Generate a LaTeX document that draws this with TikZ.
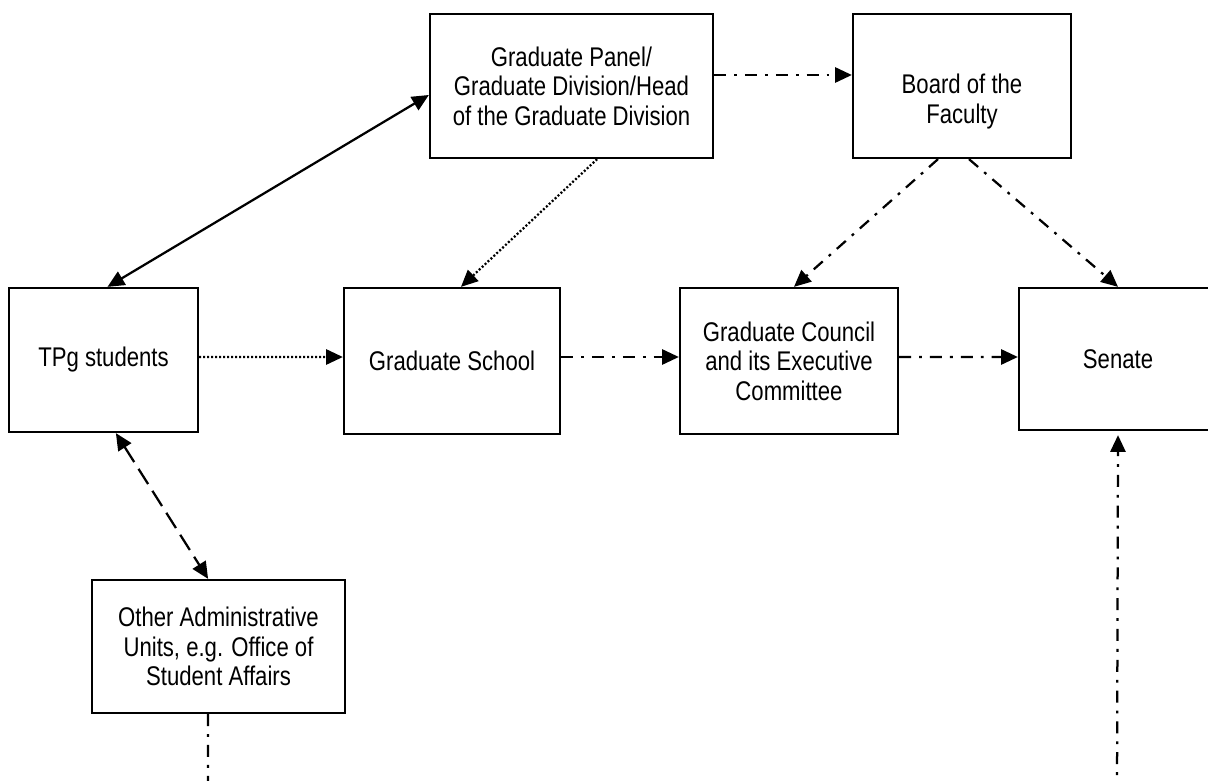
\documentclass[tikz,border=0pt]{standalone}
\usepackage{fontspec}
\setmainfont{Liberation Sans}[FakeStretch=0.82]
\usetikzlibrary{arrows.meta}

\begin{document}
\begin{tikzpicture}[x=0.025cm, y=-0.025cm, line width=1.6pt, nodes = {align = center}, >={Triangle[length=0.42cm, width=0.38cm]}]

  \tikzstyle{unit}=[draw, rectangle, inner sep=0pt, minimum height=3.6cm, font=\fontsize{19.2}{21}\selectfont]
  \tikzstyle{link}=[dash pattern=on 0.3cm off 0.2cm on 0.07cm off 0.2cm]
  \tikzstyle{info}=[dash pattern=on 0.05cm off 0.05cm]
  \tikzstyle{liaise}=[dash pattern=on 0.45cm off 0.2cm]

  \useasboundingbox (0,0) rectangle (1208,781);

  % Top row
  \node[unit, minimum width=7.075cm] (panel) at (571.5,86) {Graduate Panel/\\Graduate Division/Head\\of the Graduate Division};
  \node[unit, minimum width=5.45cm] (board) at (962,86) {\strut\\Board of the\\Faculty};

  % Middle row
  \node[unit, minimum width=4.725cm] (tpg) at (103.5,360) {TPg students};
  \node[unit, minimum width=5.4cm, minimum height=3.65cm] (school) at (452,361) {Graduate School};
  \node[unit, minimum width=5.45cm, minimum height=3.65cm] (council) at (789,361) {Graduate Council\\and its Executive\\Committee};
  \node[unit, minimum width=4.95cm, minimum height=3.55cm] (senate) at (1118,359) {Senate};

  % Bottom row
  \node[unit, minimum width=6.325cm, minimum height=3.325cm] (other) at (218.5,646.5) {Other Administrative\\Units, e.g. Office of\\Student Affairs};

  % Loose ends below the page
  \coordinate (adminEnd) at (208,795);
  \coordinate (senateEnd) at (1117,795);

  % Lines between students and units
  \draw[<->] ([xshift=0.1cm]tpg.north) -- ([yshift=-0.225cm]panel.west);
  \draw[->, info] ([yshift=0.075cm]tpg.east) -- ([yshift=0.1cm]school.west);
  \draw[<->, liaise] ([xshift=0.31cm]tpg.south) -- ([xshift=-0.26cm]other.north);

  % Lines from the panel
  \draw[->, info] ([xshift=0.64cm]panel.south) -- ([xshift=0.225cm]school.north);
  \draw[->, link] ([yshift=0.275cm]panel.east) -- ([yshift=0.275cm]board.west);

  % Lines from the board
  \draw[->, link] ([xshift=-0.6cm]board.south) -- ([xshift=0.125cm]council.north);
  \draw[->, link] ([xshift=0.175cm]board.south) -- (senate.north);

  % Lines along the middle row
  \draw[->, link] ([yshift=0.1cm]school.east) -- ([yshift=0.1cm]council.west);
  \draw[->, link] ([yshift=0.1cm]council.east) -- ([yshift=0.05cm]senate.west);

  % Lines off the bottom
  \draw[link] ([xshift=-0.26cm]other.south) -- (adminEnd);
  \draw[->, link] (senateEnd) -- ([yshift=-0.1cm]senate.south);

\end{tikzpicture}
\end{document}
